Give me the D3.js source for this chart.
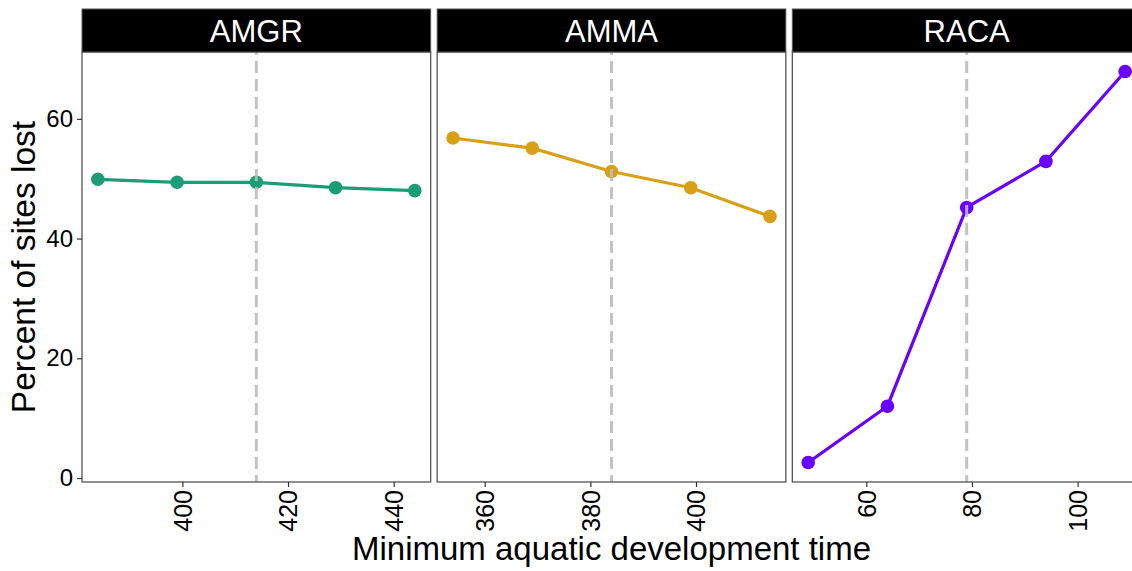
<!DOCTYPE html>
<html>
<head>
<meta charset="utf-8">
<script src="https://cdn.jsdelivr.net/npm/d3@7"></script>
<style>
  body { margin: 0; background: #fff; }
  text { font-family: "Liberation Sans", Arial, sans-serif; }
</style>
</head>
<body>
<div id="chart"></div>
<script>
// data
var species = ["AMGR", "AMMA", "RACA"];
var amgrTime = [384, 399, 414, 429, 444];
var amgrLost = [49.9, 49.4, 49.4, 48.5, 48.0];
var ammaTime = [354, 369, 384, 399, 414];
var ammaLost = [56.8, 55.1, 51.2, 48.5, 43.7];
var racaTime = [49, 64, 79, 94, 109];
var racaLost = [2.6, 12.0, 45.2, 52.9, 67.9];
var currentTime = [414, 384, 79];
var xTickValues = [[400, 420, 440], [360, 380, 400], [60, 80, 100]];
var yTickValues = [0, 20, 40, 60];

var colors = ["#1b9e77", "#d9a017", "#6a00ff"];
var times = [amgrTime, ammaTime, racaTime];
var losts = [amgrLost, ammaLost, racaLost];

var width = 1132,
  height = 571;
var plotLeft = 82, plotTop = 52, plotBottom = 482, stripH = 43;
var gap = 6.5;
var panelW = (1141 - plotLeft - 2 * gap) / 3;

var svg = d3.select("#chart").append("svg")
  .attr("width", width)
  .attr("height", height);

// shared y, ggplot style 5% expansion
var allLost = amgrLost.concat(ammaLost, racaLost);
var yMin = d3.min(allLost), yMax = d3.max(allLost);
var yPad = (yMax - yMin) * 0.05;
var y = d3.scaleLinear()
  .domain([yMin - yPad, yMax + yPad])
  .range([plotBottom, plotTop]);

species.forEach(function(sp, i) {
  var x0 = plotLeft + i * (panelW + gap);
  var t = times[i];
  var xPad = (d3.max(t) - d3.min(t)) * 0.05;
  var x = d3.scaleLinear()
    .domain([d3.min(t) - xPad, d3.max(t) + xPad])
    .range([x0, x0 + panelW]);

  var pts = t.map(function(d, j) { return { t: d, v: losts[i][j] }; });

  var g = svg.append("g");

  // clip to panel
  g.append("clipPath").attr("id", "clip" + i)
    .append("rect")
    .attr("x", x0).attr("y", plotTop)
    .attr("width", panelW).attr("height", plotBottom - plotTop);

  var inner = g.append("g").attr("clip-path", "url(#clip" + i + ")");

  inner.append("path")
    .datum(pts)
    .attr("fill", "none")
    .attr("stroke", colors[i])
    .attr("stroke-width", 3.2)
    .attr("d", d3.line()
      .x(function(d) { return x(d.t); })
      .y(function(d) { return y(d.v); }));

  inner.selectAll("circle")
    .data(pts)
    .enter().append("circle")
    .attr("cx", function(d) { return x(d.t); })
    .attr("cy", function(d) { return y(d.v); })
    .attr("r", 6.8)
    .attr("fill", colors[i]);

  // current development time
  inner.append("line")
    .attr("x1", x(currentTime[i])).attr("x2", x(currentTime[i]))
    .attr("y1", plotTop).attr("y2", plotBottom)
    .attr("stroke", "#bdbdbd")
    .attr("stroke-width", 3)
    .attr("stroke-opacity", 0.9)
    .attr("stroke-dasharray", "12,6")
    .attr("stroke-dashoffset", -9);

  // panel border
  g.append("rect")
    .attr("x", x0).attr("y", plotTop)
    .attr("width", panelW).attr("height", plotBottom - plotTop)
    .attr("fill", "none")
    .attr("stroke", "#555")
    .attr("stroke-width", 1.3);

  // strip
  g.append("rect")
    .attr("x", x0).attr("y", plotTop - stripH)
    .attr("width", panelW).attr("height", stripH)
    .attr("fill", "#000")
    .attr("stroke", "#555")
    .attr("stroke-width", 1);
  g.append("text")
    .attr("x", x0 + panelW / 2)
    .attr("y", plotTop - stripH / 2)
    .attr("dy", "0.36em")
    .attr("text-anchor", "middle")
    .attr("fill", "#fff")
    .style("font-size", "31px")
    .text(sp);

  // x axis
  var xa = svg.append("g")
    .attr("transform", "translate(0," + plotBottom + ")")
    .call(d3.axisBottom(x).tickValues(xTickValues[i]).tickSize(5).tickFormat(d3.format("d")));
  xa.select(".domain").remove();
  xa.selectAll(".tick line").attr("stroke", "#333").attr("stroke-width", 1.2);
  xa.selectAll(".tick text")
    .attr("transform", "rotate(-90)")
    .attr("x", -8)
    .attr("y", 0)
    .attr("dy", "0.35em")
    .attr("text-anchor", "end")
    .attr("fill", "#000")
    .style("font-size", "25px");
});

// y axis
var ya = svg.append("g")
  .attr("transform", "translate(" + plotLeft + ",0)")
  .call(d3.axisLeft(y).tickValues(yTickValues).tickSize(5));
ya.select(".domain").remove();
ya.selectAll(".tick line").attr("stroke", "#333").attr("stroke-width", 1.2);
ya.selectAll(".tick text")
  .attr("x", -9)
  .attr("fill", "#000")
  .style("font-size", "24px");

// axis titles
svg.append("text")
  .attr("x", plotLeft + (1141 - plotLeft) / 2)
  .attr("y", 560)
  .attr("text-anchor", "middle")
  .style("font-size", "33px")
  .text("Minimum aquatic development time");

svg.append("text")
  .attr("transform", "translate(35," + (plotTop + plotBottom) / 2 + ") rotate(-90)")
  .attr("text-anchor", "middle")
  .style("font-size", "33.5px")
  .text("Percent of sites lost");
</script>
</body>
</html>
